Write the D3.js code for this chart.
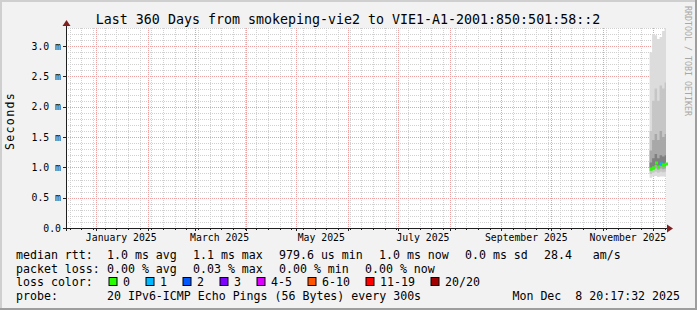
<!DOCTYPE html>
<html>
<head>
<meta charset="utf-8">
<script src="https://cdn.jsdelivr.net/npm/d3@7"></script>
<style>
  body { margin: 0; background: #f2f2f2; }
  text { font-family: "DejaVu Sans Mono", monospace; fill: #000; white-space: pre; }
</style>
</head>
<body>
<div id="chart"></div>
<script>
// ---- data ----
const sampleTimes = ["2025-11-29T00:00", "2025-11-30T12:00", "2025-12-02T00:00", "2025-12-03T12:00",
                     "2025-12-05T00:00", "2025-12-06T12:00", "2025-12-08T00:00"];
const medianRtt = [0.97, 0.995, 1.08, 1.01, 1.05, 1.04, 1.05];
const lossCount = [0, 0, 0, 0, 1, 0, 0];
const smokeMax  = [2.90, 3.20, 3.18, 3.12, 3.15, 3.25, 3.30];
const smokeP90  = [1.60, 2.10, 2.30, 2.10, 2.35, 2.30, 2.40];
const smokeP75  = [1.28, 1.45, 1.55, 1.45, 1.60, 1.50, 1.55];
const smokeP60  = [1.08, 1.15, 1.22, 1.15, 1.20, 1.18, 1.20];
const smokeP40  = [0.99, 1.01, 1.04, 1.00, 1.03, 1.02, 1.03];
const smokeP25  = [0.94, 0.96, 0.98, 0.96, 0.98, 0.97, 0.98];
const smokeP10  = [0.89, 0.91, 0.93, 0.91, 0.93, 0.92, 0.93];
const smokeMin  = [0.83, 0.85, 0.86, 0.84, 0.85, 0.85, 0.84];

const yTicks = [0, 0.5, 1.0, 1.5, 2.0, 2.5, 3.0];
const yTickLabels = ["0.0", "0.5 m", "1.0 m", "1.5 m", "2.0 m", "2.5 m", "3.0 m"];
const xLabelMonths = ["2025-01", "2025-03", "2025-05", "2025-07", "2025-09", "2025-11"];

const lossLabels = ["0", "1", "2", "3", "4-5", "6-10", "11-19", "20/20"];
const lossColors = ["#26ff00", "#00b8ff", "#0059ff", "#7e00ff", "#dd00ff", "#ff5500", "#ff0000", "#a10000"];
const rttStats  = ["1.0 ms avg", "1.1 ms max", "979.6 us min", "1.0 ms now", "0.0 ms sd", "28.4   am/s"];
const lossStats = ["0.00 % avg", "0.03 % max", "0.00 % min", "0.00 % now"];

const title = "Last 360 Days from smokeping-vie2 to VIE1-A1-2001:850:501:58::2";
const probeText = "20 IPv6-ICMP Echo Pings (56 Bytes) every 300s";
const stampText = "Mon Dec  8 20:17:32 2025";

// ---- layout ----
const W = 697, H = 310;
const plotL = 66, plotR = 666, plotT = 28, plotB = 228;
const charW = 7.0;

const parse = d3.timeParse("%Y-%m-%dT%H:%M");
const endTime = new Date(2025, 11, 8, 20, 17, 32);
const startTime = d3.timeDay.offset(endTime, -360);

const x = d3.scaleTime().domain([startTime, endTime]).range([plotL, plotR]);
const y = d3.scaleLinear().domain([0, 3.3]).range([plotB, plotT]);
const px = v => Math.round(v) + 0.5;

const svg = d3.select("#chart").append("svg").attr("width", W).attr("height", H);

// background + 3D frame
svg.append("rect").attr("width", W).attr("height", H).attr("fill", "#f2f2f2");
svg.append("rect").attr("x", 0).attr("y", 0).attr("width", W).attr("height", 2).attr("fill", "#cfcfcf");
svg.append("rect").attr("x", 0).attr("y", 0).attr("width", 2).attr("height", H).attr("fill", "#cfcfcf");
svg.append("rect").attr("x", 0).attr("y", H - 2).attr("width", W).attr("height", 2).attr("fill", "#9e9e9e");
svg.append("rect").attr("x", W - 2).attr("y", 0).attr("width", 2).attr("height", H).attr("fill", "#9e9e9e");

// canvas
svg.append("rect").attr("x", plotL).attr("y", plotT).attr("width", plotR - plotL).attr("height", plotB - plotT)
  .attr("fill", "#fff");

let g = svg.append("g").attr("shape-rendering", "crispEdges");

// minor grid
y.ticks(33).forEach(v => {
  if (yTicks.some(t => Math.abs(t - v) < 1e-6)) return;
  g.append("line").attr("x1", plotL).attr("x2", plotR).attr("y1", px(y(v))).attr("y2", px(y(v)))
    .attr("stroke", "#d0d0d0").attr("stroke-dasharray", "1,1");
});
const weeks = d3.timeMonday.range(startTime, endTime);
weeks.forEach(d => {
  g.append("line").attr("x1", px(x(d))).attr("x2", px(x(d))).attr("y1", plotT).attr("y2", plotB)
    .attr("stroke", "#d0d0d0").attr("stroke-dasharray", "1,1");
});

// major grid
const months = d3.timeMonth.range(startTime, endTime);
yTicks.forEach(v => {
  g.append("line").attr("x1", plotL).attr("x2", plotR).attr("y1", px(y(v))).attr("y2", px(y(v)))
    .attr("stroke", "#eea0a0").attr("stroke-dasharray", "1,1");
});
months.forEach(d => {
  g.append("line").attr("x1", px(x(d))).attr("x2", px(x(d))).attr("y1", plotT).attr("y2", plotB)
    .attr("stroke", "#eea0a0").attr("stroke-dasharray", "1,1");
});

// smoke
const pts = sampleTimes.map((t, i) => ({ t: parse(t), i }));
pts.push({ t: endTime, i: sampleTimes.length - 1 });
const bands = [
  [smokeMin, smokeMax, "#dcdcdc"],
  [smokeP10, smokeP90, "#c6c6c6"],
  [smokeP25, smokeP75, "#a8a8a8"],
  [smokeP40, smokeP60, "#808080"]
];
bands.forEach(([lo, hi, col]) => {
  const area = d3.area().curve(d3.curveStepAfter)
    .x(d => x(d.t)).y0(d => y(lo[d.i])).y1(d => y(hi[d.i]));
  svg.append("path").datum(pts).attr("d", area).attr("fill", col);
});

// median coloured by loss
svg.selectAll(".med").data(sampleTimes).enter().append("rect")
  .attr("class", "med")
  .attr("x", d => Math.round(x(parse(d))))
  .attr("y", (d, i) => Math.round(y(medianRtt[i])) - 1.5)
  .attr("width", 3).attr("height", 3)
  .attr("fill", (d, i) => lossColors[Math.min(lossCount[i], 7)]);

// axes
const axis = svg.append("g").attr("shape-rendering", "crispEdges");
axis.append("line").attr("x1", plotL - 3).attr("x2", plotR + 2).attr("y1", px(plotB)).attr("y2", px(plotB))
  .attr("stroke", "#1f1f1f");
axis.append("line").attr("x1", px(plotL)).attr("x2", px(plotL)).attr("y1", plotB + 3).attr("y2", plotT - 2)
  .attr("stroke", "#1f1f1f");
yTicks.forEach(v => {
  axis.append("line").attr("x1", plotL - 3).attr("x2", plotL).attr("y1", px(y(v))).attr("y2", px(y(v)))
    .attr("stroke", "#1f1f1f");
});
months.forEach(d => {
  axis.append("line").attr("x1", px(x(d))).attr("x2", px(x(d))).attr("y1", plotB).attr("y2", plotB + 3)
    .attr("stroke", "#1f1f1f");
});
weeks.forEach(d => {
  axis.append("line").attr("x1", px(x(d))).attr("x2", px(x(d))).attr("y1", plotB).attr("y2", plotB + 2)
    .attr("stroke", "#1f1f1f");
});
// arrows
svg.append("path").attr("d", `M${plotL - 3.5},${plotT - 2}L${plotL + 4.5},${plotT - 2}L${plotL + 0.5},${plotT - 8}Z`)
  .attr("fill", "#801f1f");
svg.append("path").attr("d", `M${plotR + 1},${plotB - 3.5}L${plotR + 1},${plotB + 4.5}L${plotR + 7},${plotB + 0.5}Z`)
  .attr("fill", "#801f1f");

// tick labels
svg.selectAll(".ylab").data(yTicks).enter().append("text")
  .attr("x", 61).attr("y", d => y(d) + 3.5)
  .attr("text-anchor", "end").attr("font-size", "9.8px")
  .text((d, i) => yTickLabels[i]);

const monthParse = d3.timeParse("%Y-%m");
svg.selectAll(".xlab").data(xLabelMonths).enter().append("text")
  .attr("x", d => x(d3.timeDay.offset(monthParse(d), 15)))
  .attr("y", 241).attr("text-anchor", "middle").attr("font-size", "9.8px")
  .text(d => d3.timeFormat("%B %Y")(monthParse(d)));

// title, y label, watermark
svg.append("text").attr("x", 348).attr("y", 24).attr("text-anchor", "middle")
  .attr("font-size", "13.3px").text(title);
svg.append("text").attr("transform", "translate(14,121) rotate(-90)")
  .attr("text-anchor", "middle").attr("font-size", "11.6px").attr("letter-spacing", "1.3px")
  .text("Seconds");
svg.append("text").attr("transform", "translate(685,6) rotate(90)")
  .attr("font-size", "8.3px").style("fill", "#a8a8a8")
  .text("RRDTOOL / TOBI OETIKER");

// legend
const legendFont = "11.6px";
const rows = [259, 272.5, 286, 299.5];
const valX = 107;
const addText = (tx, ty, s, anchor) => svg.append("text").attr("x", tx).attr("y", ty)
  .attr("font-size", legendFont).attr("text-anchor", anchor || "start").text(s);

addText(16, rows[0], "median rtt:");
let cx = valX;
rttStats.forEach(s => { addText(cx, rows[0], s); cx += s.length * charW + 16; });

addText(16, rows[1], "packet loss:");
cx = valX;
lossStats.forEach(s => { addText(cx, rows[1], s); cx += s.length * charW + 16; });

addText(16, rows[2], "loss color:");
cx = valX + 1.5;
lossLabels.forEach((s, i) => {
  svg.append("rect").attr("x", cx + 0.5).attr("y", rows[2] - 8.5).attr("width", 8).attr("height", 8)
    .attr("fill", lossColors[i]).attr("stroke", "#000").attr("stroke-width", 1);
  addText(cx + 14.5, rows[2], s);
  cx += 30 + s.length * charW;
});

addText(16, rows[3], "probe:");
addText(valX, rows[3], probeText);
addText(680, rows[3], stampText, "end");
</script>
</body>
</html>
